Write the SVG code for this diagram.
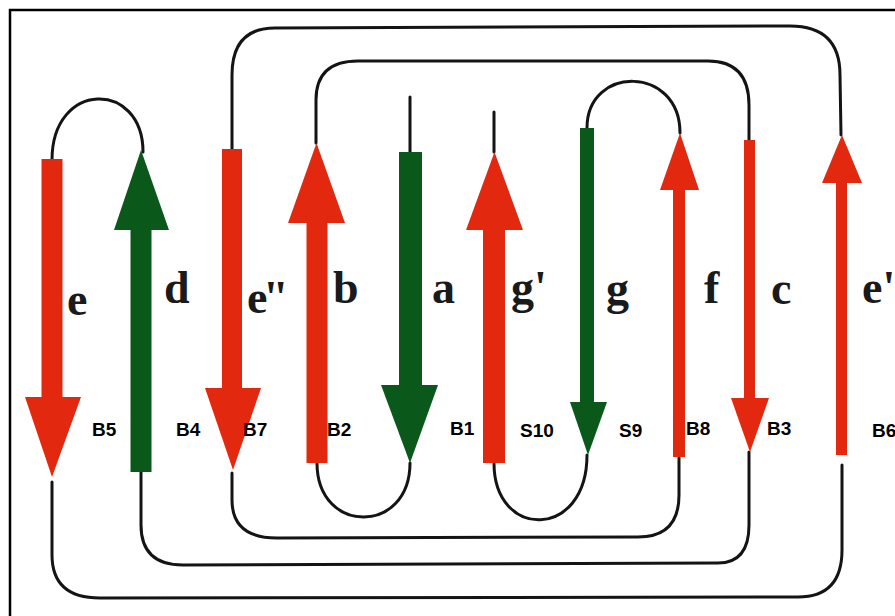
<svg xmlns="http://www.w3.org/2000/svg" width="895" height="616" viewBox="0 0 895 616">
<style>
.red{fill:#e2290f}
.grn{fill:#0b581b}
.c{fill:none;stroke:#141414;stroke-width:3;stroke-linecap:round}
.big{font-family:"Liberation Serif","Times New Roman",serif;font-weight:bold;font-size:46px;fill:#1a1a1a}
.sm{font-family:"Liberation Sans",Arial,sans-serif;font-weight:bold;font-size:19px;fill:#000}
</style>
<rect x="0" y="0" width="895" height="616" fill="#fff"/>
<rect x="10" y="10" width="900" height="620" fill="none" stroke="#000" stroke-width="2.5"/>
<g id="connectors">
<path class="c" d="M52,160 C52,80 143,80 143,152"/>
<path class="c" d="M232,149 L232,75 Q232,28 275,28 L790,26 Q840,26 840,75 L841,135"/>
<path class="c" d="M316,143 L316,100 Q316,61 358,61 L708,61 Q749,61 749,105 L749,140"/>
<path class="c" d="M410,152 L410,97"/>
<path class="c" d="M494,152 L494,112"/>
<path class="c" d="M587,128 C587,65 680,65 680,133"/>
<path class="c" d="M52,482 L52,555 Q52,598 100,598 L798,597 Q842,597 842,550 L842,465"/>
<path class="c" d="M141,472 L141,525 Q141,565 183,565 L718,563 Q749,563 749,525 L749,452"/>
<path class="c" d="M232,473 L232,500 Q232,538 277,538 L638,537 Q679,537 679,495 L679,457"/>
<path class="c" d="M317,463 C317,535 410,535 410,463"/>
<path class="c" d="M494,463 C494,540 587,540 587,455"/>
</g>
<g id="strand-e">
<rect class="red" x="41.5" y="159" width="21" height="240"/>
<polygon class="red" points="25,397 81,397 52,477"/>
<text class="big" x="67" y="315">e</text>
</g>
<g id="strand-d">
<rect class="grn" x="130.5" y="228" width="21" height="244"/>
<polygon class="grn" points="114,230 169,230 141,150"/>
<text class="big" x="164" y="303">d</text>
</g>
<g id="strand-e2">
<rect class="red" x="222" y="149" width="20" height="241"/>
<polygon class="red" points="205,388 261,388 233,470"/>
<text class="big" x="247" y="313" letter-spacing="-3">e''</text>
</g>
<g id="strand-b">
<rect class="red" x="306.5" y="221" width="21" height="242"/>
<polygon class="red" points="288,223 345,223 316.5,143"/>
<text class="big" x="333" y="303">b</text>
</g>
<g id="strand-a">
<rect class="grn" x="399" y="152" width="23" height="235"/>
<polygon class="grn" points="381,385 438,385 410,463"/>
<text class="big" x="432" y="303">a</text>
</g>
<g id="strand-g1">
<rect class="red" x="483" y="228" width="22" height="235"/>
<polygon class="red" points="466,230 523,230 494.5,152"/>
<text class="big" x="511" y="303">g'</text>
</g>
<g id="strand-g">
<rect class="grn" x="580" y="128" width="14" height="276"/>
<polygon class="grn" points="570,402 607,402 588,455"/>
<text class="big" x="606" y="304">g</text>
</g>
<g id="strand-f">
<rect class="red" x="673" y="188" width="12" height="269"/>
<polygon class="red" points="660,190 699,190 680,133"/>
<text class="big" x="704" y="303">f</text>
</g>
<g id="strand-c">
<rect class="red" x="744" y="140" width="11" height="260"/>
<polygon class="red" points="731,398 769,398 750,452"/>
<text class="big" x="771" y="304">c</text>
</g>
<g id="strand-e1">
<rect class="red" x="836" y="181" width="11" height="274"/>
<polygon class="red" points="822,183 862,183 842,135"/>
<text class="big" x="862" y="303">e'</text>
</g>
<g id="labels">
<text class="sm" x="92" y="436">B5</text>
<text class="sm" x="176" y="436">B4</text>
<text class="sm" x="243" y="436">B7</text>
<text class="sm" x="327" y="436">B2</text>
<text class="sm" x="450" y="435">B1</text>
<text class="sm" x="520" y="437">S10</text>
<text class="sm" x="619" y="437">S9</text>
<text class="sm" x="686" y="435">B8</text>
<text class="sm" x="767" y="435">B3</text>
<text class="sm" x="872" y="437">B6</text>
</g>
</svg>
